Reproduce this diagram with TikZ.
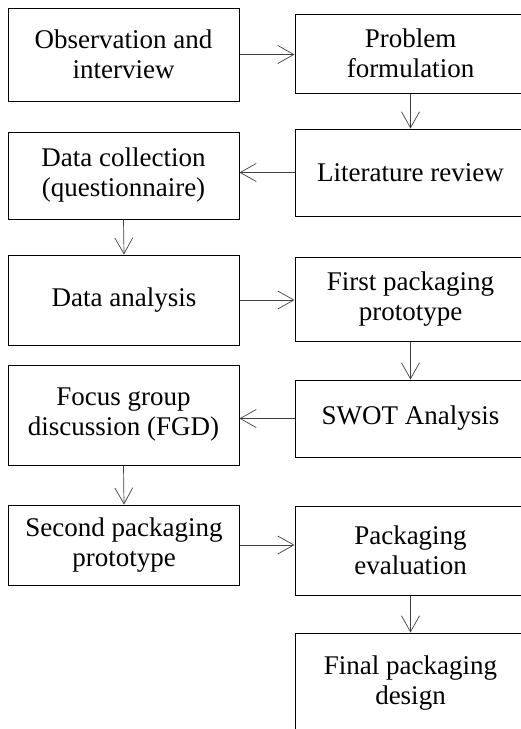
\documentclass[tikz,border=0pt]{standalone}
\usepackage{fontspec}
\setmainfont{Liberation Serif}
\usetikzlibrary{arrows.meta}
\tikzset{
  stage/.style={draw, line width=1pt, minimum width=231pt, align=center, inner sep=0pt,
    font=\fontsize{27}{30}\selectfont},
  flow/.style={-{Straight Barb[length=16pt,width=18pt]}, line width=0.7pt, draw=black!75}
}
\begin{document}
\begin{tikzpicture}[x=1pt,y=-1pt]
    \useasboundingbox (0,0) rectangle (521,729);
    \clip (0,0) rectangle (521,729);
    \node[stage, minimum height=93pt] (obs) at (123.5,54.5) {Observation and\\interview};
    \node[stage, minimum height=79pt] (prob) at (410.5,53.5) {Problem\\formulation};
    \node[stage, minimum height=87pt] (coll) at (123.5,175.5) {Data collection\\(questionnaire)};
    \node[stage, minimum height=87pt] (lit) at (410.5,172.5) {Literature review};
    \node[stage, minimum height=90pt] (ana) at (124,300) {Data analysis};
    \node[stage, minimum height=84pt] (first) at (410.5,299) {First packaging\\prototype};
    \node[stage, minimum height=100pt] (fgd) at (123.5,415) {Focus group\\discussion (FGD)};
    \node[stage, minimum height=77pt] (swot) at (410.5,418.5) {SWOT Analysis};
    \node[stage, minimum height=80pt] (second) at (124,545) {Second packaging\\prototype};
    \node[stage, minimum height=89pt] (evalp) at (410.5,550.5) {Packaging\\evaluation};
    \node[stage, minimum height=100pt] (final) at (410.5,683) {Final packaging\\design};
    \draw[flow] (obs.east) -- (obs.east -| prob.west);
    \draw[flow] (prob.south) -- (lit.north);
    \draw[flow] (lit.west) -- (lit.west -| coll.east);
    \draw[flow] (coll.south) -- (ana.north);
    \draw[flow] (ana.east) -- (ana.east -| first.west);
    \draw[flow] (first.south) -- (swot.north);
    \draw[flow] (swot.west) -- (swot.west -| fgd.east);
    \draw[flow] (fgd.south) -- (second.north);
    \draw[flow] (second.east) -- (second.east -| evalp.west);
    \draw[flow] (evalp.south) -- (final.north);
\end{tikzpicture}
\end{document}
